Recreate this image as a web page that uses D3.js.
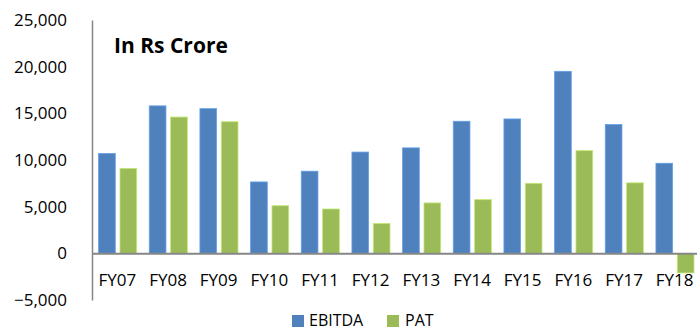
<!DOCTYPE html>
<html>
<head>
<meta charset="utf-8">
<script src="https://cdn.jsdelivr.net/npm/d3@7"></script>
<style>
  html, body { margin: 0; padding: 0; background: #fff; }
  svg { display: block; font-family: "Open Sans", sans-serif; }
</style>
</head>
<body>
<svg id="chart" width="697" height="331"></svg>
<script>
// Financial years shown on the category axis
const years = ["FY07", "FY08", "FY09", "FY10", "FY11", "FY12", "FY13", "FY14", "FY15", "FY16", "FY17", "FY18"];
// EBITDA and PAT, in Rs crore
const ebitda = [10700, 15800, 15500, 7650, 8800, 10850, 11300, 14150, 14400, 19500, 13800, 9650];
const pat    = [9100, 14600, 14100, 5100, 4750, 3200, 5400, 5750, 7500, 11000, 7550, -2100];
const seriesNames = ["EBITDA", "PAT"];
const seriesColors = ["#4F81BD", "#9BBB59"];
const yTicks = [-5000, 0, 5000, 10000, 15000, 20000, 25000];

const svg = d3.select("#chart");
const axisColor = "#868686";

const y = d3.scaleLinear().domain([-5000, 25000]).range([300, 20]);
const x0 = d3.scaleBand().domain(years).range([92, 700]).paddingInner(0).paddingOuter(0);
const x1 = d3.scaleBand().domain(seriesNames).range([6.6, x0.bandwidth() - 6]).paddingInner(0.22);
const color = d3.scaleOrdinal().domain(seriesNames).range(seriesColors);

const rows = years.map((yr, i) => ({ year: yr, values: [
  { key: "EBITDA", value: ebitda[i] },
  { key: "PAT", value: pat[i] }
]}));

// Bars
const groups = svg.append("g").selectAll("g")
  .data(rows).join("g")
  .attr("transform", d => `translate(${x0(d.year)},0)`);

groups.selectAll("rect")
  .data(d => d.values).join("rect")
  .attr("x", d => x1(d.key))
  .attr("width", x1.bandwidth())
  .attr("y", d => y(Math.max(0, d.value)))
  .attr("height", d => Math.abs(y(d.value) - y(0)))
  .attr("fill", d => color(d.key))
  .attr("stroke", d => d3.color(color(d.key)).brighter(0.6))
  .attr("stroke-width", 0.8);

// Y axis
const yAxis = svg.append("g")
  .attr("transform", "translate(92,0)")
  .call(d3.axisLeft(y).tickValues(yTicks).tickSize(0).tickSizeOuter(0).tickPadding(25)
    .tickFormat(d3.format(",")));
yAxis.select(".domain").attr("stroke", axisColor).attr("stroke-width", 1.5);
yAxis.selectAll("text").attr("font-size", 17).attr("fill", "#000")
  .attr("font-family", "'Open Sans', sans-serif");

// Category axis along the zero line
const xAxis = svg.append("g")
  .attr("transform", `translate(0,${y(0)})`)
  .call(d3.axisBottom(x0).tickSize(0).tickSizeOuter(0).tickPadding(21));
xAxis.select(".domain").attr("stroke", axisColor).attr("stroke-width", 2);
xAxis.selectAll("text").attr("font-size", 17).attr("fill", "#000")
  .attr("font-family", "'Open Sans', sans-serif");

// Title
svg.append("text")
  .attr("x", 114).attr("y", 53)
  .attr("font-size", 21).attr("font-weight", "bold").attr("fill", "#000")
  .text("In Rs Crore");

// Legend
const legendPos = [{ sx: 292, tx: 309 }, { sx: 387, tx: 405 }];
const legend = svg.append("g").selectAll("g")
  .data(seriesNames).join("g");
legend.append("rect")
  .attr("x", (d, i) => legendPos[i].sx).attr("y", 315)
  .attr("width", 12).attr("height", 12)
  .attr("fill", d => color(d));
legend.append("text")
  .attr("x", (d, i) => legendPos[i].tx).attr("y", 326)
  .attr("font-size", 16).attr("fill", "#000")
  .text(d => d);
</script>
</body>
</html>
